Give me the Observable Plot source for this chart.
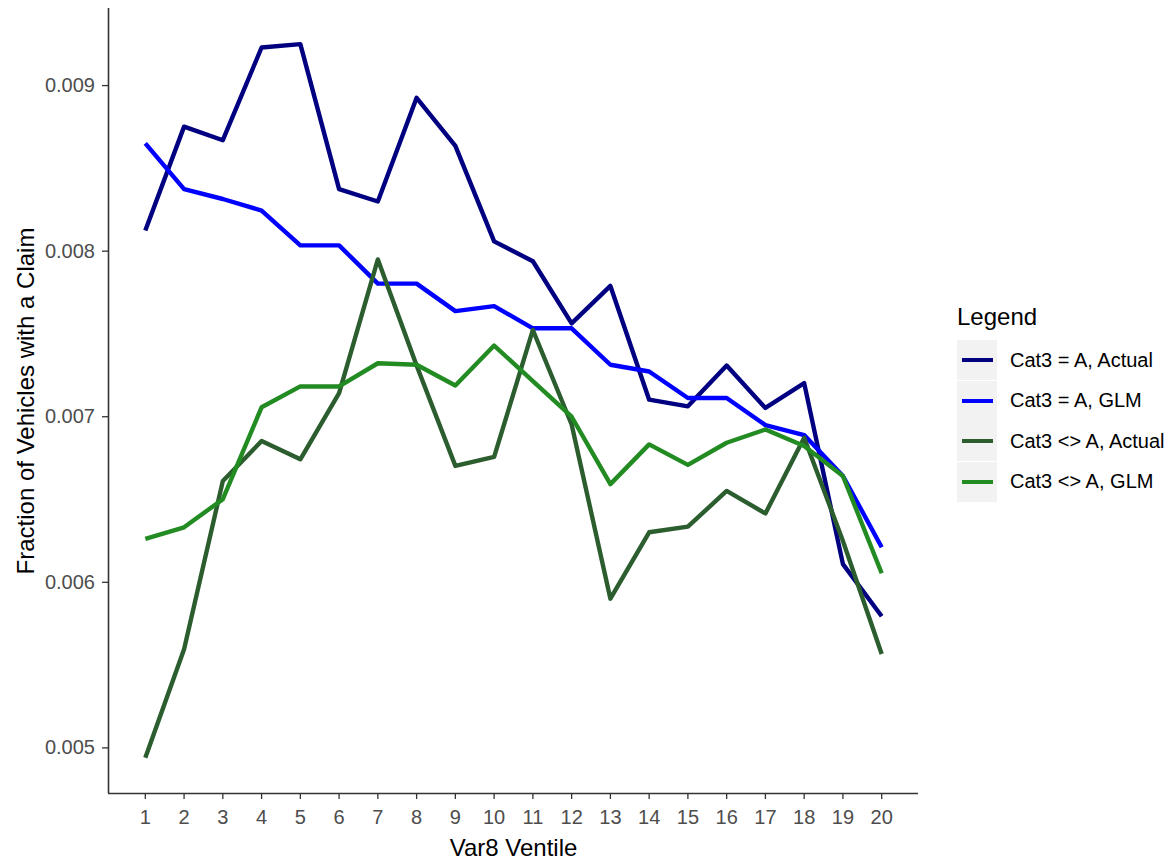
<!DOCTYPE html>
<html><head><meta charset="utf-8">
<script src="https://cdn.jsdelivr.net/npm/d3@7"></script>
<script src="https://cdn.jsdelivr.net/npm/@observablehq/plot@0.6"></script>
<style>
html,body{margin:0;padding:0;background:#fff;overflow:hidden;}
#wrap{position:relative;width:1173px;height:861px;font-family:"Liberation Sans",Arial,sans-serif;}
#chart{position:absolute;left:0;top:0;}
#legend{position:absolute;left:957px;top:305px;}
#legend .lt{font-size:24px;line-height:24px;height:35px;color:#000;}
#legend .row{display:flex;align-items:center;height:40px;margin-bottom:0.5px;}
#legend .key{width:40px;height:40px;background:#f2f2f2;position:relative;}
#legend .kl{position:absolute;left:4.5px;top:18px;width:31px;height:4px;}
#legend .lab{margin-left:13px;font-size:20px;color:#000;white-space:nowrap;}
</style></head>
<body><div id="wrap"><div id="chart"></div><div id="legend"></div></div>
<script>
// ---- data ----
const ventiles = [1,2,3,4,5,6,7,8,9,10,11,12,13,14,15,16,17,18,19,20];
const seriesNames = ["Cat3 = A, Actual", "Cat3 = A, GLM", "Cat3 <> A, Actual", "Cat3 <> A, GLM"];
const seriesColors = ["#000080", "#0000ff", "#2b5d2e", "#228b22"];
const actualA = [0.008125,0.008752,0.00867,0.00923,0.00925,0.008375,0.0083,0.008926,0.008636,0.008059,0.007939,0.007564,0.00779,0.007103,0.007063,0.007309,0.007053,0.007203,0.00611,0.005795];
const glmA = [0.008651,0.008375,0.008315,0.008245,0.008035,0.008035,0.007804,0.007804,0.007638,0.007668,0.007534,0.007534,0.007314,0.007273,0.007113,0.007113,0.006949,0.006889,0.006642,0.006212];
const actualNotA = [0.00494,0.005595,0.006612,0.006853,0.006743,0.007143,0.00795,0.00731,0.006703,0.006757,0.007524,0.006953,0.005901,0.006302,0.006336,0.006552,0.006416,0.006873,0.00625,0.005567];
const glmNotA = [0.006262,0.006332,0.006502,0.007057,0.007183,0.007183,0.007323,0.007314,0.007189,0.00743,0.007215,0.007,0.006593,0.006833,0.006709,0.006843,0.006923,0.006823,0.006642,0.006055];
const yTicks = [0.005, 0.006, 0.007, 0.008, 0.009];
const xTitle = "Var8 Ventile";
const yTitle = "Fraction of Vehicles with a Claim";
const legendTitle = "Legend";

// ---- build ----
const seriesValues = [actualA, glmA, actualNotA, glmNotA];
const rows = seriesNames.flatMap((s, i) => ventiles.map((v, j) => ({ventile: v, value: seriesValues[i][j], series: s})));
const allVals = seriesValues.flat();
const yMin = d3.min(allVals), yMax = d3.max(allVals);
const yPad = (yMax - yMin) * 0.05;
const xMin = d3.min(ventiles), xMax = d3.max(ventiles);
const xPad = (xMax - xMin) * 0.05;

const chart = Plot.plot({
  width: 930, height: 861,
  marginLeft: 108, marginRight: 12, marginTop: 8, marginBottom: 68,
  style: {fontFamily: "'Liberation Sans', Arial, sans-serif", fontSize: "20px", background: "#fff", overflow: "visible"},
  x: {domain: [xMin - xPad, xMax + xPad]},
  y: {domain: [yMin - yPad, yMax + yPad]},
  color: {domain: seriesNames, range: seriesColors},
  marks: [
    Plot.line(rows, {x: "ventile", y: "value", z: "series", stroke: "series", strokeWidth: 4.4, strokeLinejoin: "round", strokeLinecap: "butt"}),
    Plot.axisX({ticks: ventiles, tickFormat: d => String(d), tickSize: 6, tickPadding: 10, stroke: "#333", strokeWidth: 1.3, fill: "#4d4d4d", label: null}),
    Plot.axisY({ticks: yTicks, tickFormat: d3.format(".3f"), tickSize: 6, tickPadding: 7.5, stroke: "#333", strokeWidth: 1.3, fill: "#4d4d4d", label: null}),
    Plot.ruleX([xMin - xPad], {stroke: "#333", strokeWidth: 1.6}),
    Plot.ruleY([yMin - yPad], {stroke: "#333", strokeWidth: 1.6}),
    Plot.text([xTitle], {text: d => d, frameAnchor: "bottom", lineAnchor: "bottom", textAnchor: "middle", dy: 62, fontSize: 24, fill: "#000"}),
    Plot.text([yTitle], {text: d => d, frameAnchor: "left", rotate: -90, lineAnchor: "bottom", textAnchor: "middle", dx: -75, fontSize: 24, fill: "#000"})
  ]
});
document.getElementById("chart").appendChild(chart);

// legend
const leg = document.getElementById("legend");
const t = document.createElement("div"); t.className = "lt"; t.textContent = legendTitle; leg.appendChild(t);
seriesNames.forEach((s, i) => {
  const r = document.createElement("div"); r.className = "row";
  const k = document.createElement("div"); k.className = "key";
  const kl = document.createElement("div"); kl.className = "kl"; kl.style.background = seriesColors[i];
  k.appendChild(kl); r.appendChild(k);
  const l = document.createElement("span"); l.className = "lab"; l.textContent = s; r.appendChild(l);
  leg.appendChild(r);
});
</script></body></html>
